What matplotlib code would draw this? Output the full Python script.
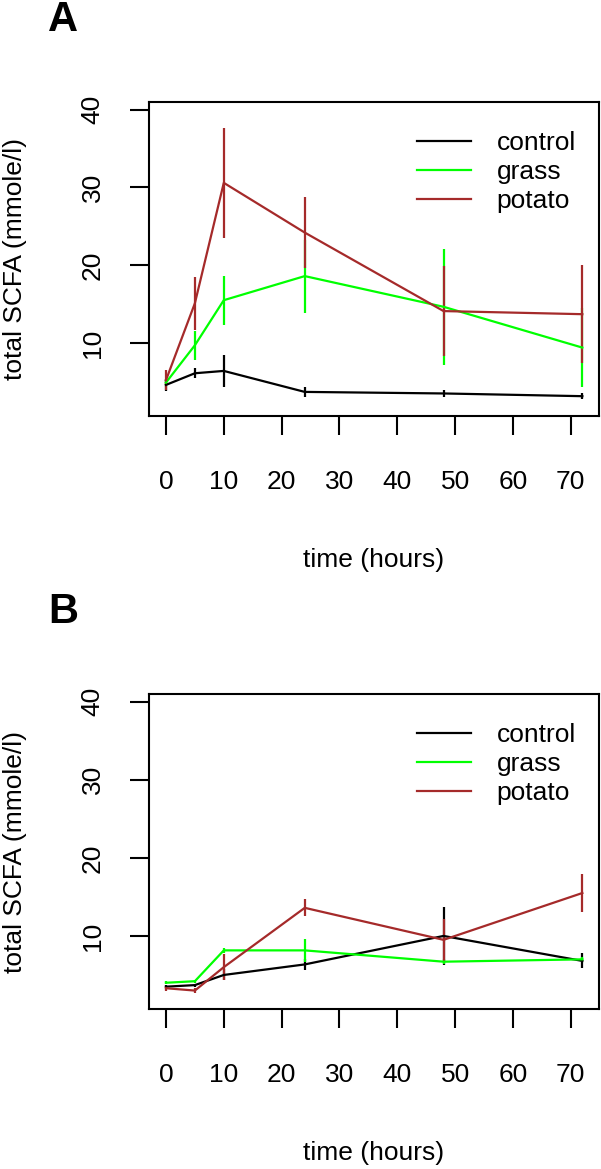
import matplotlib
matplotlib.use("Agg")
import matplotlib.pyplot as plt
import numpy as np

plt.rcParams['font.family'] = ['Liberation Sans', 'DejaVu Sans']

# sampling times (hours)
hours = [0, 5, 10, 24, 48, 72]
groups = ["control", "grass", "potato"]
colours = ["black", "#00FF00", "#A52A2A"]

# panel A: total SCFA mean and error
a_control = [4.6, 6.1, 6.4, 3.7, 3.5, 3.15]
a_control_err = [0.75, 0.65, 2.05, 0.6, 0.4, 0.4]
a_grass = [4.9, 9.7, 15.5, 18.6, 14.65, 9.4]
a_grass_err = [0.4, 1.9, 3.15, 4.7, 7.5, 5.1]
a_potato = [5.2, 15.1, 30.6, 24.2, 14.1, 13.7]
a_potato_err = [1.3, 3.4, 7.1, 4.6, 5.8, 6.3]

# panel B
b_control = [3.5, 3.7, 5.0, 6.35, 10.0, 6.8]
b_control_err = [0.2, 0.2, 0.7, 0.7, 3.7, 0.95]
b_grass = [4.0, 4.2, 8.15, 8.15, 6.7, 7.0]
b_grass_err = [0.2, 0.2, 0.3, 1.5, 0.3, 0.3]
b_potato = [3.3, 3.0, 6.0, 13.6, 9.5, 15.5]
b_potato_err = [0.3, 0.3, 1.7, 1.1, 2.7, 2.4]

W, H = 601, 1169
fig = plt.figure(figsize=(W / 100, H / 100), dpi=100)


def panel(top, bottom, means, errs):
    ax = fig.add_axes([149.3 / W, 1 - bottom / H, 449.7 / W, (bottom - top) / H])
    handles = []
    for m, e, c, g in zip(means, errs, colours, groups):
        cont = ax.errorbar(hours, m, yerr=e, color=c, lw=1.6, elinewidth=1.6, capsize=0, label=g)
        handles.append(cont[0])
    ax.set_xlim(-2.88, 74.88)
    ax.set_ylim(0.6, 41.0)
    ax.set_xticks(np.arange(0, 71, 10))
    ax.set_yticks([10, 20, 30, 40])
    for s in ax.spines.values():
        s.set_linewidth(1.5)
    ax.tick_params(axis='both', direction='out', length=14, width=1.5, labelsize=19)
    ax.tick_params(axis='x', pad=25)
    ax.tick_params(axis='y', pad=18)
    for lab in ax.get_yticklabels():
        lab.set_rotation(90)
        lab.set_va('center')
    ax.legend(handles=handles, labels=groups, loc='upper right', bbox_to_anchor=(0.949, 0.907),
              frameon=False, fontsize=19, borderaxespad=0, borderpad=0, handlelength=2.05,
              handletextpad=0.98, labelspacing=0.19)
    fig.text(15 / W, 1 - (top + bottom) / 2 / H, "total SCFA (mmole/l)", rotation=90,
             ha='center', va='center', fontsize=19)
    fig.text(374 / W, 1 - (bottom + 144) / H, "time (hours)", ha='center', va='center', fontsize=19)
    return ax


panel(102, 416, [a_control, a_grass, a_potato], [a_control_err, a_grass_err, a_potato_err])
panel(694, 1009.3, [b_control, b_grass, b_potato], [b_control_err, b_grass_err, b_potato_err])

fig.text(63 / W, 1 - 20 / H, "A", fontsize=30, fontweight='bold', ha='center', va='center')
fig.text(63 / W, 1 - 612 / H, "B", fontsize=30, fontweight='bold', ha='center', va='center')

fig.savefig("out.png", dpi=100)
